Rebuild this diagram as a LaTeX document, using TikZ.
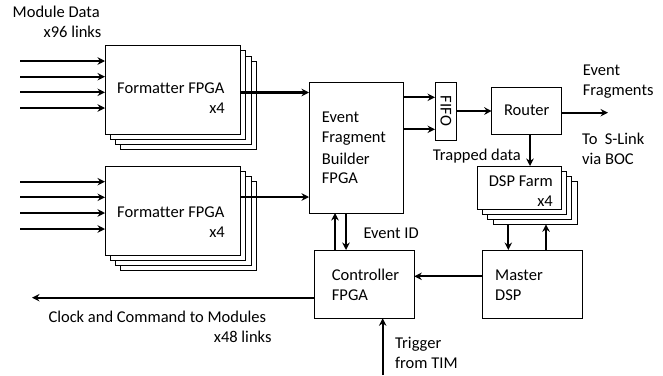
\documentclass[tikz,border=0pt]{standalone}
\usepackage{fontspec}
\setmainfont{Carlito}[Ligatures=CommonOff]
\usetikzlibrary{arrows.meta}

% rectangle given by its corners: name, x1, y1, x2, y2
\newcommand\mkbox[5]{%
  \node[box, minimum width={((#4)-(#2))*1pt}, minimum height={((#5)-(#3))*1pt}]
    (#1) at ({((#2)+(#4))/2},{((#3)+(#5))/2}) {};}

\begin{document}
\begin{tikzpicture}[x=1pt,y=-1pt,
  box/.style={draw, line width=1pt, fill=white, inner sep=0pt, outer sep=0pt},
  txt/.style={font=\fontsize{16.5}{20}\selectfont, inner sep=0pt, anchor=base west},
  rtxt/.style={txt, anchor=base east},
  link/.style={line width=2.1pt, -{Stealth[length=7.5pt,width=7.5pt,inset=2.5pt]}}]
\useasboundingbox (0,0) rectangle (663,375);

% formatter and DSP stacks (back copies first)
\foreach \k in {3,2,1}{
  \mkbox{fmtA\k}{105+5.2*\k}{45.7+5.2*\k}{240.7+5.2*\k}{134+5.2*\k}
  \mkbox{fmtB\k}{105+5.2*\k}{166+5.2*\k}{240.7+5.2*\k}{255+5.2*\k}
  \mkbox{dsp\k}{477.7+5.1*\k}{166+5.1*\k}{561.7+5.1*\k}{209+5.1*\k}
}
\mkbox{fmtA}{105}{45.7}{240.7}{134}
\mkbox{fmtB}{105}{166}{240.7}{255}
\mkbox{dsp}{477.7}{166}{561.7}{209}

\mkbox{efb}{309}{82}{403.3}{213}
\mkbox{fifo}{435}{82}{456.7}{140}
\mkbox{router}{491.7}{87.3}{561.7}{134}
\mkbox{master}{482.7}{250}{582.3}{318.3}
\mkbox{ctrl}{314.3}{250}{414.3}{318.3}

% labels
\node[txt] (md1) at (12.5,17.5) {Module Data};
\node[rtxt] (md2) at (101.5,37.5) {x96 links};
\node[txt] (fa1) at (117,93.3) {Formatter FPGA};
\node[rtxt] (fa2) at (225,113.5) {x4};
\node[txt] (fb1) at (117,217.3) {Formatter FPGA};
\node[rtxt] (fb2) at (225,237.5) {x4};
\node[txt] (ck1) at (48.3,322) {Clock and Command to Modules};
\node[rtxt] (ck2) at (271.7,342) {x48 links};
\node[txt] (e1) at (321.7,122.3) {Event};
\node[txt] (e2) at (321.7,142.5) {Fragment};
\node[txt] (e3) at (321.7,164.3) {Builder};
\node[txt] (e4) at (321.7,183.5) {FPGA};
\node[font=\fontsize{16.5}{20}\selectfont, inner sep=0pt, rotate=-90] (ff) at (fifo.center) {FIFO};
\node[font=\fontsize{16.5}{20}\selectfont, inner sep=0pt] (rt) at (router.center) {Router};
\node[txt] (ev1) at (582.7,75.5) {Event};
\node[txt] (ev2) at (582.7,95) {Fragments};
\node[txt] (sl1) at (582,144.5) {To\ \ S-Link};
\node[txt] (sl2) at (582,164.5) {via BOC};
\node[txt] (td) at (432.7,160.5) {Trapped data};
\node[rtxt] (df1) at (553,186) {DSP Farm};
\node[rtxt] (df2) at (553,206.5) {x4};
\node[txt] (ms1) at (495,280.5) {Master};
\node[txt] (ms2) at (495,300.5) {DSP};
\node[txt] (cf1) at (331.7,280.5) {Controller};
\node[txt] (cf2) at (331.7,300.5) {FPGA};
\node[txt] (eid) at (363.3,238) {Event ID};
\node[txt] (tg1) at (395,348.7) {Trigger};
\node[txt] (tg2) at (395,368) {from TIM};

% module data inputs
\foreach \yy [count=\i] in {61,76.7,92.3,108}{
  \coordinate (ia\i) at (20,\yy);
  \draw[link] (ia\i) -- (ia\i -| fmtA.west);
}
\foreach \yy [count=\i] in {181.7,197.3,213,229}{
  \coordinate (ib\i) at (20,\yy);
  \draw[link] (ib\i) -- (ib\i -| fmtB.west);
}

% formatters to event fragment builder, drawn over the stacked copies
\coordinate (outa) at (0,92.5);
\coordinate (outb) at (0,197);
\draw[link] (outa -| fmtA.east) -- (outa -| efb.west);
\draw[link] (outb -| fmtB.east) -- (outb -| efb.west);

% builder to FIFO
\coordinate (f1) at (0,97.3);
\coordinate (f2) at (0,129.3);
\draw[link] (f1 -| efb.east) -- (f1 -| fifo.west);
\draw[link] (f2 -| efb.east) -- (f2 -| fifo.west);

% FIFO to router, router out
\coordinate (r1) at (0,111);
\draw[link] (r1 -| fifo.east) -- (r1 -| router.west);
\coordinate (rout) at (608,112.7);
\draw[link] (rout -| router.east) -- (rout);

% router to DSP farm
\coordinate (rd) at (530,0);
\draw[link] (rd |- router.south) -- (rd |- dsp.north);

% DSP farm and master DSP
\coordinate (dm1) at (508.3,0);
\coordinate (dm2) at (546,0);
\draw[link] (dm1 |- dsp3.south) -- (dm1 |- master.north);
\draw[link] (dm2 |- master.north) -- (dm2 |- dsp3.south);

% master DSP to controller
\coordinate (mc) at (0,276.3);
\draw[link] (mc -| master.west) -- (mc -| ctrl.east);

% builder and controller
\coordinate (bc1) at (335,0);
\coordinate (bc2) at (346,0);
\draw[link] (bc1 |- ctrl.north) -- (bc1 |- efb.south);
\draw[link] (bc2 |- efb.south) -- (bc2 |- ctrl.north);

% clock and command out
\coordinate (ck) at (32,297.7);
\draw[link] (ck -| ctrl.west) -- (ck);

% trigger in
\coordinate (tg) at (382.7,375);
\draw[link] (tg) -- (tg |- ctrl.south);
\end{tikzpicture}
\end{document}
